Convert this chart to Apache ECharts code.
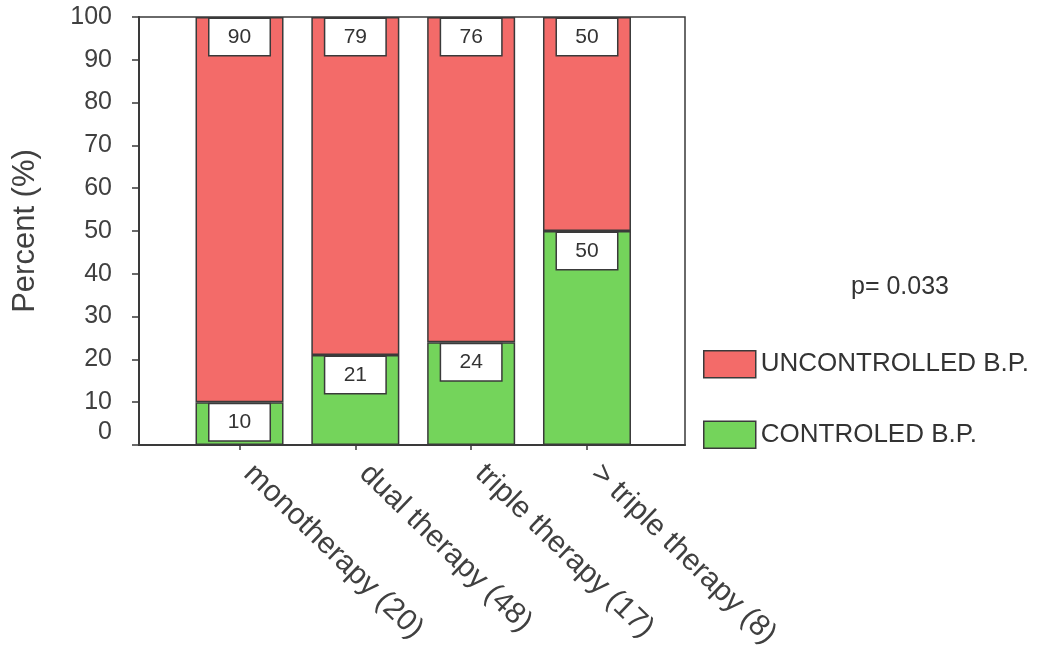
<!DOCTYPE html>
<html>
<head>
<meta charset="utf-8">
<script src="https://cdn.jsdelivr.net/npm/echarts@6/dist/echarts.min.js"></script>
<style>
  html, body { margin: 0; padding: 0; background: #fff; }
  #chart { width: 1043px; height: 652px; }
</style>
</head>
<body>
<div id="chart"></div>
<script>
// Blood-pressure control by treatment regimen (percent of patients)
const categories = ['monotherapy (20)', 'dual therapy (48)', 'triple therapy (17)', '> triple therapy (8)'];
const controlled = [10, 21, 24, 50];
const uncontrolled = [90, 79, 76, 50];
const seriesNames = ['CONTROLED B.P.', 'UNCONTROLLED B.P.'];
const yTicks = { min: 0, max: 100, interval: 10 };
const pValueText = 'p= 0.033';

const FONT = '"Liberation Sans", Arial, sans-serif';
const TEXT = '#404040';
const EDGE = '#3a3a3a';
const RED = '#f36b69';
const GREEN = '#74d45b';

const plotTop = 17, plotHeight = 428;

const boxLabel = {
  show: true,
  position: 'insideTop',
  distance: 2,
  backgroundColor: '#fff',
  borderColor: EDGE,
  borderWidth: 1.5,
  width: 60,
  height: 36,
  lineHeight: 36,
  align: 'center',
  fontFamily: FONT,
  fontSize: 21,
  color: '#333'
};

const chart = echarts.init(document.getElementById('chart'), null, { renderer: 'canvas' });
chart.setOption({
  animation: false,
  backgroundColor: '#fff',
  textStyle: { fontFamily: FONT },
  grid: [
    // frame with the percent axis
    { left: 139, top: plotTop, width: 546, height: plotHeight, show: true,
      borderColor: EDGE, borderWidth: 1.5, backgroundColor: 'transparent',
      containLabel: false, outerBoundsMode: 'none' },
    // stacked bars with their category labels
    { left: 181.6, top: plotTop, width: 463.3, height: plotHeight,
      containLabel: false, outerBoundsMode: 'none' }
  ],
  xAxis: [
    { gridIndex: 0, type: 'value', min: 0, max: 1,
      axisLine: { show: true, onZero: false, lineStyle: { color: EDGE, width: 2 } },
      axisTick: { show: false }, axisLabel: { show: false }, splitLine: { show: false } },
    { gridIndex: 1, type: 'category', data: categories,
      axisLine: { show: false },
      axisTick: { show: true, alignWithLabel: true, length: 5, lineStyle: { color: EDGE, width: 1.5 } },
      axisLabel: { rotate: -44, margin: 16, padding: [0, 0, 0, 12], fontSize: 30,
                   color: TEXT, fontFamily: FONT, interval: 0 } }
  ],
  yAxis: [
    { gridIndex: 0, type: 'value', min: yTicks.min, max: yTicks.max, interval: yTicks.interval,
      name: 'Percent (%)', nameLocation: 'middle', nameGap: 98, nameRotate: 90,
      nameTextStyle: { fontSize: 31, color: TEXT, fontFamily: FONT },
      axisLine: { show: true, lineStyle: { color: EDGE, width: 2 } },
      axisTick: { show: true, inside: false, length: 7, lineStyle: { color: EDGE, width: 1.5 } },
      splitLine: { show: false },
      axisLabel: {
        margin: 27, fontSize: 25, color: TEXT, fontFamily: FONT,
        formatter: v => (v === 0 ? '{z|0}' : String(v)),
        rich: { z: { fontSize: 25, color: TEXT, fontFamily: FONT, padding: [0, 0, 26, 0] } }
      } },
    { gridIndex: 1, type: 'value', min: yTicks.min, max: yTicks.max, show: false }
  ],
  legend: {
    data: [seriesNames[1], seriesNames[0]],
    orient: 'vertical',
    left: 703,
    top: 350,
    padding: 0,
    itemWidth: 52,
    itemHeight: 27,
    itemGap: 42,
    icon: 'rect',
    textStyle: { fontSize: 26, color: '#333', fontFamily: FONT },
    itemStyle: { borderColor: EDGE, borderWidth: 1.5 }
  },
  graphic: [
    { type: 'text', left: 851, top: 275,
      style: { text: pValueText, fontSize: 25, fill: '#333', fontFamily: FONT } }
  ],
  series: [
    { name: seriesNames[0], type: 'bar', stack: 'bp', xAxisIndex: 1, yAxisIndex: 1,
      data: controlled, barWidth: 88,
      itemStyle: { color: GREEN, borderColor: EDGE, borderWidth: 1.5 },
      label: boxLabel },
    { name: seriesNames[1], type: 'bar', stack: 'bp', xAxisIndex: 1, yAxisIndex: 1,
      data: uncontrolled, barWidth: 88,
      itemStyle: { color: RED, borderColor: EDGE, borderWidth: 1.5 },
      label: boxLabel }
  ]
});
</script>
</body>
</html>
